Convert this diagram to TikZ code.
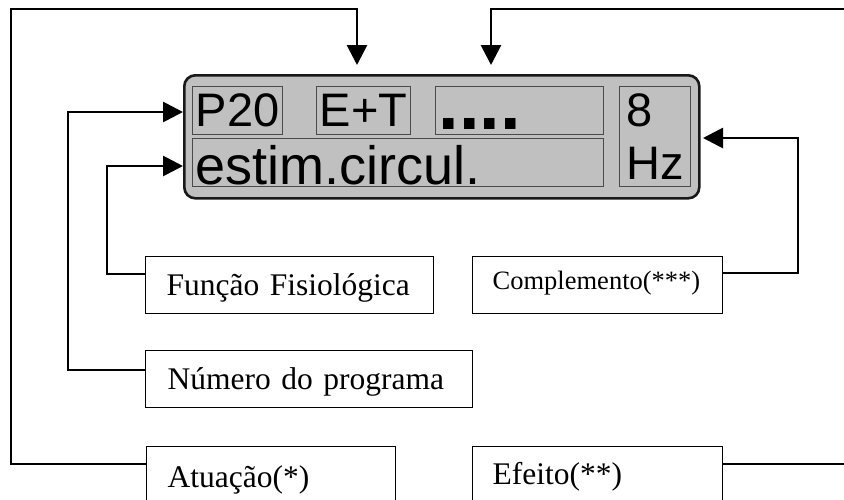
\documentclass[tikz,border=0pt]{standalone}
\usepackage{fontspec}
\setmainfont{Liberation Serif}
\newfontfamily\lcdfont{Liberation Sans}
\usetikzlibrary{arrows.meta}
\definecolor{lcdgray}{HTML}{C0C0C0}
\definecolor{celledge}{HTML}{4A4A4A}
\begin{document}
\begin{tikzpicture}[x=1pt,y=-1pt,
  conn/.style={line width=2.8pt},
  tip/.style={-{Triangle[length=20pt,width=20pt]}},
  label/.style={draw,line width=1.4pt,anchor=north west,align=left,inner ysep=0pt,
    minimum height=57pt,font=\fontsize{31.5}{38}\selectfont},
  cell/.style={draw=celledge,line width=1pt,fill=lcdgray,anchor=north west,inner ysep=0pt,
    font=\lcdfont\fontsize{47}{53}\selectfont}]
\useasboundingbox (0,0) rectangle (844,499);
\node[draw=black!90,line width=2.6pt,fill=lcdgray,rounded corners=11pt,
  minimum width=515pt,minimum height=123pt,anchor=north west] (lcd) at (183,74) {};
\node[cell,minimum width=88pt,text height=40pt,text depth=8pt] (p20) at (192,86) {P20};
\node[cell,minimum width=91pt,text height=40pt,text depth=8pt] (et) at (316,86) {E+T};
\node[cell,text width=162pt,inner xsep=3pt,align=left,text height=43pt,text depth=5pt,
  font=\lcdfont\bfseries\fontsize{74}{74}\selectfont] (dots) at (435,86) {....};
\node[cell,text width=405pt,inner xsep=3pt,align=left,text height=46pt,text depth=2pt,
  font=\lcdfont\fontsize{54}{54}\selectfont] (est) at (192,138) {estim.circul.};
\node[cell,minimum width=71pt,minimum height=100pt,align=left,inner sep=0pt] (hz) at (619,86) {8\\Hz};
\node[label,text width=246pt,inner xsep=21pt,text height=39pt,text depth=18pt] (func) at (145,256) {\mbox{Função Fisiológica}};
\node[label,text width=210pt,inner xsep=20pt,text height=33pt,text depth=24pt,
  font=\fontsize{26.5}{30}\selectfont] (comp) at (472,256) {\mbox{Complemento(***)}};
\node[label,text width=283pt,inner xsep=22pt,text height=39pt,text depth=18pt] (num) at (145,350) {\mbox{Número do programa}};
\node[label,text width=207pt,inner xsep=21pt,text height=41pt,text depth=16pt] (atu) at (146,446) {\mbox{Atuação(*)}};
\node[label,text width=210pt,inner xsep=20pt,text height=38pt,text depth=19pt] (efe) at (472,446) {\mbox{Efeito(**)}};
\coordinate (tipA) at (357,65);
\coordinate (tipB) at (491,65);
\coordinate (tipC) at (703,138);
\coordinate (tipD) at (183,112);
\coordinate (tipE) at (183,166);
\draw[conn,tip] ([yshift=-18pt]atu.north west) -| (11,9) -| (tipA);
\draw[conn,tip] ([yshift=-18pt]efe.north east) -| (860,9) -| (tipB);
\draw[conn,tip] ([yshift=-20pt]num.north west) -| (68,112) -- (tipD);
\draw[conn,tip] ([yshift=-18pt]func.north west) -| (107,166) -- (tipE);
\draw[conn,tip] ([yshift=-17pt]comp.north east) -| (798,138) -- (tipC);
\end{tikzpicture}
\end{document}
